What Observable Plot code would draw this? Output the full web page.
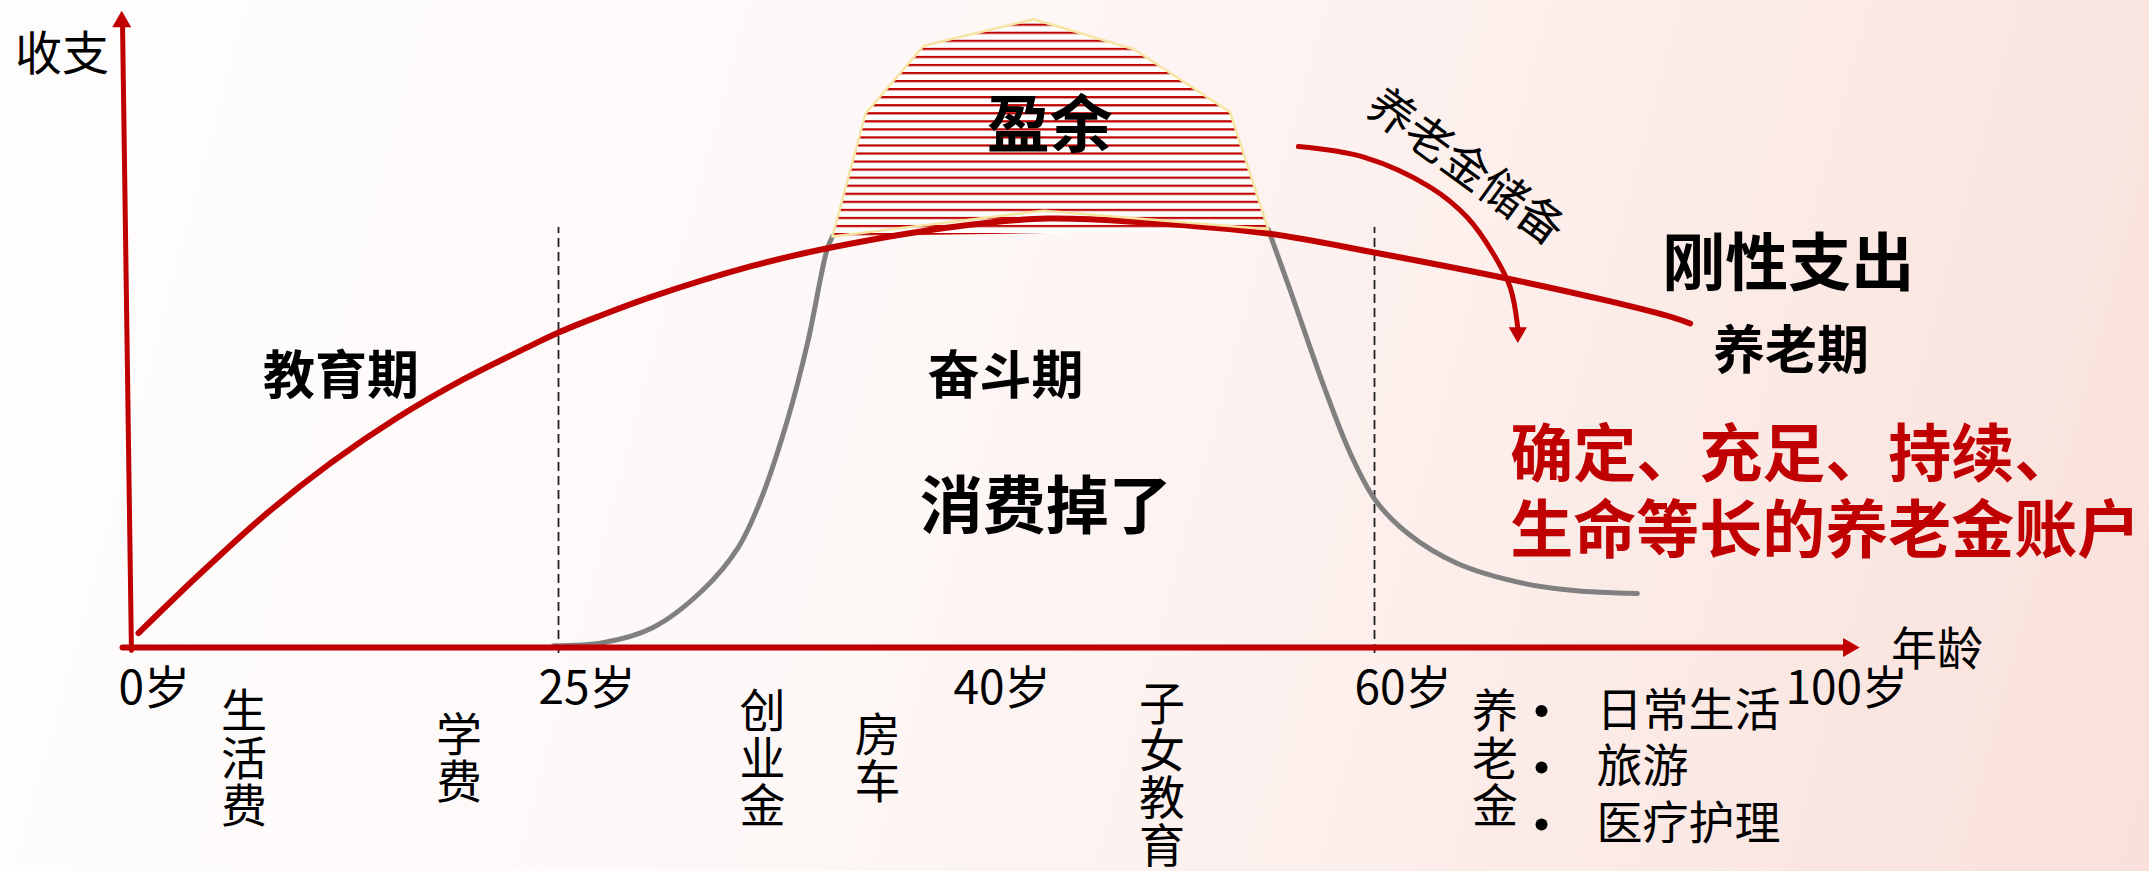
<!DOCTYPE html>
<html><head><meta charset="utf-8">
<style>
html,body{margin:0;padding:0;}
body{width:2149px;height:871px;overflow:hidden;background:linear-gradient(105deg,#fefdfd 0%,#fdf8f7 40%,#fcefec 65%,#f9e0da 100%);font-family:"Noto Sans CJK SC",sans-serif;}
#chart svg{display:block;}
</style>
<script src="https://cdn.jsdelivr.net/npm/d3@7"></script>
<script src="https://cdn.jsdelivr.net/npm/@observablehq/plot@0.6"></script>
</head><body><div id="chart"></div>
<script>
// ---------- data (age in years, value in relative amount) ----------
// x-axis stops (diagram is not to scale: piecewise age scale)
const ageStops = [0, 25, 40, 60, 100];
const ageTickLabels = ["0岁", "25岁", "40岁", "60岁", "100岁"];
const dividerAges = [25, 60];

// red curve: 刚性支出
const spendingAge   = [0, 3.49, 7.46, 11.43, 15.4, 19.36, 23.33, 25, 26.4, 28.33, 32.0, 34.9, 39.1, 43.7, 48.7, 54.7, 60.1, 72.3, 81.6, 87.7, 89.3];
const spendingValue = [2.4, 11.83, 21.93, 30.72, 38.28, 44.72, 50.27, 52.5, 55.1, 58.4, 63.6, 66.7, 70, 71.5, 70.8, 69, 65.8, 61.5, 57.8, 55, 54];

// grey curve: 收入 (rise and fall, top hidden by 盈余 area)
const incomeRiseAge   = [24.7, 26.6, 28.4, 30.2, 31.5, 32.3, 33.3, 34.0, 34.7, 34.9];
const incomeRiseValue = [0.3, 0.8, 3.3, 9.5, 16.7, 24.5, 38.3, 50.7, 66.2, 68.5];
const incomeFallAge   = [54.7, 55.8, 57.5, 58.8, 60.1, 63.1, 67.7, 73.8, 78.5, 84.4];
const incomeFallValue = [69.7, 59.5, 43.3, 32.3, 24.5, 19, 14, 10.7, 9.5, 9];

// 盈余 area
const surplusAge   = [34.9, 36.1, 38.2, 43.0, 48.0, 52.8, 54.7];
const surplusValue = [68.5, 89, 100.3, 104.7, 99.7, 89.2, 69.7];
const surplusOutlineAge   = [34.9, 36.1, 38.2, 43.0, 48.0, 52.8, 54.7, 43.5];
const surplusOutlineValue = [68.5, 89, 100.3, 104.7, 99.7, 89.2, 69.7, 72.8];

// 养老金储备 arrow
const reserveAge   = [56.2, 59.5, 65.2, 68.6, 71.0, 72.6, 73.3];
const reserveValue = [83.5, 81.7, 76.7, 71.7, 65.7, 60, 53.3];
const reserveTip   = [{age: 73.3, value: 52.5}];

// axes
const yAxisAge = [-0.42, -0.95];
const yAxisValue = [-0.5, 103.7];
const yAxisTip = [{age: -1.0, value: 104.3}];
const xAxisAge = [-0.95, 103.6];
const xAxisValue = [0, 0];
const xAxisTip = [{age: 104.0, value: 0}];

// labels
const yTitle = [{label: "收支", age: -4.55, value: 98.7}];
const xTitle = [{label: "年龄", age: 112.2, value: -0.5}];
const phaseLabels = [
  {label: "教育期", age: 12.05, value: 45},
  {label: "奋斗期", age: 41.6, value: 45},
  {label: "养老期", age: 98.65, value: 49.2}
];
const bigLabels = [
  {label: "盈余", age: 43.8, value: 86.7},
  {label: "消费掉了", age: 43.6, value: 23.25},
  {label: "刚性支出", age: 98.4, value: 63.7}
];
const sloganLines = [
  {label: "确定、充足、持续、", age: 72.6, value: 32},
  {label: "生命等长的养老金账户", age: 72.6, value: 19.25}
];
const reserveLabel = [{label: "养老金储备", age: 68.45, value: 80}];
const expenseItems = [
  {label: "生活费", age: 6.28, value: -18.67},
  {label: "学费", age: 19.08, value: -18.67},
  {label: "创业金", age: 32.37, value: -18.67},
  {label: "房车", age: 36.53, value: -18.67},
  {label: "子女教育", age: 49.4, value: -21.33},
  {label: "养老金", age: 71.18, value: -18.67}
];
const pensionUses = ["日常生活", "旅游", "医疗护理"];
const pensionUseValue = [-10.6, -20, -29.5];
const bulletAge = 75.5;
const pensionUseAge = 80.6;
const tickValue = -6.9;

// ---------- tables ----------
const pts = (a, v) => a.map((age, i) => ({age, value: v[i]}));
const spending = pts(spendingAge, spendingValue);
const incomeRise = pts(incomeRiseAge, incomeRiseValue);
const incomeFall = pts(incomeFallAge, incomeFallValue);
const surplus = pts(surplusAge, surplusValue);
const surplusOutline = pts(surplusOutlineAge, surplusOutlineValue);
const reserve = pts(reserveAge, reserveValue);
const yAxis = pts(yAxisAge, yAxisValue);
const xAxis = pts(xAxisAge, xAxisValue);
const ticks = ageStops.map((age, i) => ({age, value: tickValue, label: ageTickLabels[i]}));
const verticalItems = expenseItems.map(d => ({...d, label: Array.from(d.label).join("\n")}));
const bullets = pensionUseValue.map(value => ({age: bulletAge, value}));
const uses = pensionUses.map((label, i) => ({label, age: pensionUseAge, value: pensionUseValue[i]}));

const RED = "#C00000";
const ns = "http://www.w3.org/2000/svg";
function stripeDefs() {
  const defs = document.createElementNS(ns, "defs");
  const pat = document.createElementNS(ns, "pattern");
  pat.setAttribute("id", "surplus-stripes");
  pat.setAttribute("patternUnits", "userSpaceOnUse");
  pat.setAttribute("x", "0");
  pat.setAttribute("y", "-1");
  pat.setAttribute("width", "20");
  pat.setAttribute("height", "8.05");
  const bg = document.createElementNS(ns, "rect");
  bg.setAttribute("width", "20"); bg.setAttribute("height", "8.05"); bg.setAttribute("fill", "#ffffff");
  const st = document.createElementNS(ns, "rect");
  st.setAttribute("width", "20"); st.setAttribute("height", "2.2"); st.setAttribute("fill", RED);
  pat.appendChild(bg); pat.appendChild(st);
  defs.appendChild(pat);
  return defs;
}

const FONT = "'Noto Sans CJK SC', sans-serif";
const chart = Plot.plot({
  width: 2149,
  height: 871,
  margin: 0,
  style: {background: "transparent", fontFamily: FONT, overflow: "visible"},
  x: {type: "linear", domain: ageStops, range: [138, 558, 973, 1374, 1805], axis: null},
  y: {type: "linear", domain: [0, 100], range: [647, 47], axis: null},
  marks: [
    stripeDefs,
    Plot.ruleX(dividerAges, {y1: -1, y2: 70, stroke: "#222", strokeWidth: 1.8, strokeDasharray: "9,5"}),
    Plot.line(surplus, {x: "age", y: "value", curve: "linear-closed", fill: "url(#surplus-stripes)", stroke: "none"}),
    Plot.line(incomeRise, {x: "age", y: "value", curve: "catmull-rom", stroke: "#808080", strokeWidth: 5}),
    Plot.line(incomeFall, {x: "age", y: "value", curve: "catmull-rom", stroke: "#808080", strokeWidth: 5}),
    Plot.line(spending, {x: "age", y: "value", curve: "catmull-rom", stroke: RED, strokeWidth: 6}),
    Plot.line(surplusOutline, {x: "age", y: "value", curve: "linear-closed", fill: "none", stroke: "#F7E4A2", strokeWidth: 2.5}),
    Plot.line(yAxis, {x: "age", y: "value", stroke: RED, strokeWidth: 5}),
    Plot.line(xAxis, {x: "age", y: "value", stroke: RED, strokeWidth: 6}),
    Plot.dot(yAxisTip, {x: "age", y: "value", symbol: "triangle", r: 7.1, fill: RED, stroke: "none"}),
    Plot.dot(xAxisTip, {x: "age", y: "value", symbol: "triangle", r: 7.1, rotate: 90, fill: RED, stroke: "none"}),
    Plot.line(reserve, {x: "age", y: "value", curve: "catmull-rom", stroke: RED, strokeWidth: 5}),
    Plot.dot(reserveTip, {x: "age", y: "value", symbol: "triangle", r: 6.8, rotate: 180, fill: RED, stroke: "none"}),
    Plot.text(yTitle, {x: "age", y: "value", text: "label", fontSize: 47, fill: "#000"}),
    Plot.text(xTitle, {x: "age", y: "value", text: "label", fontSize: 46, fill: "#000"}),
    Plot.text(ticks, {x: "age", y: "value", text: "label", fontSize: 46, textAnchor: "start", dx: -20, fill: "#000"}),
    Plot.text(phaseLabels, {x: "age", y: "value", text: "label", fontSize: 52, fontWeight: "bold", fill: "#000"}),
    Plot.text(bigLabels, {x: "age", y: "value", text: "label", fontSize: 63, fontWeight: "bold", fill: "#000"}),
    Plot.text(sloganLines, {x: "age", y: "value", text: "label", fontSize: 63, fontWeight: "bold", textAnchor: "start", fill: RED}),
    Plot.text(reserveLabel, {x: "age", y: "value", text: "label", fontSize: 46, rotate: 36, fill: "#000"}),
    Plot.text(verticalItems, {x: "age", y: "value", text: "label", fontSize: 46, lineHeight: 1.03, fill: "#000"}),
    Plot.dot(bullets, {x: "age", y: "value", r: 6, fill: "#000", stroke: "none"}),
    Plot.text(uses, {x: "age", y: "value", text: "label", fontSize: 46, textAnchor: "start", fill: "#000"})
  ]
});
document.getElementById("chart").appendChild(chart);
</script></body></html>
